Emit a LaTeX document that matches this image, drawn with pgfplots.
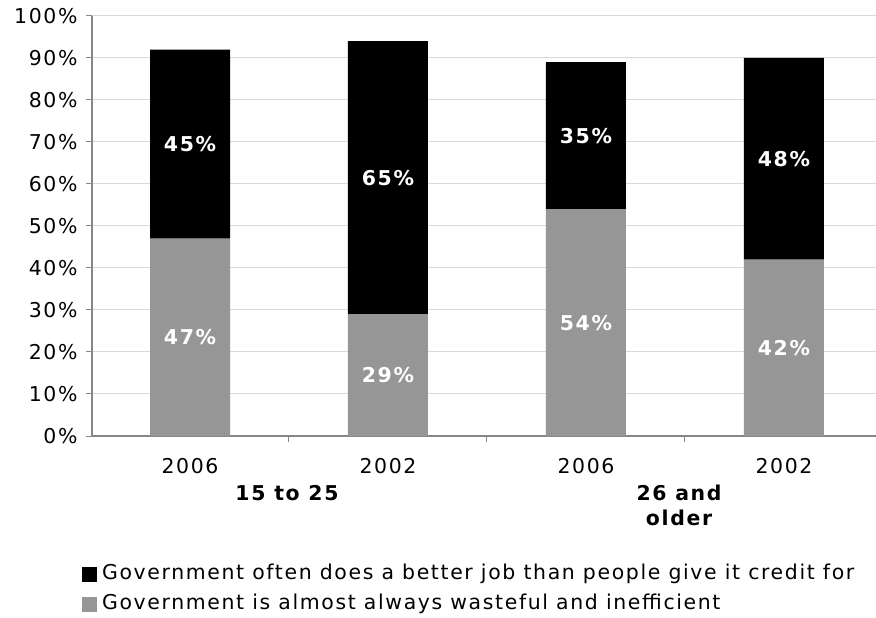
\documentclass[border=0pt]{standalone}
\usepackage{fontspec}
\setmainfont[LetterSpace=8]{DejaVu Sans}
\usepackage{pgfplots}
\usepackage{pgfplotstable}
\pgfplotsset{compat=1.18}
\definecolor{bargray}{RGB}{150,150,150}
\definecolor{axisgray}{RGB}{134,134,134}
\definecolor{gridgray}{RGB}{217,217,217}
\pgfplotstableread{
xpos waste better
0 47 45
1 29 65
2 54 35
3 42 48
}\govtable
\newcommand{\chartfont}{\fontsize{20.5}{25}\selectfont}
\begin{document}
\begin{tikzpicture}
\path[use as bounding box] (0bp,0bp) rectangle (876bp,618bp);
\begin{axis}[
  at={(92bp,182bp)}, anchor=south west,
  scale only axis, width=784bp, height=420bp,
  ybar stacked, bar width=80bp,
  xmin=-0.495, xmax=3.465, ymin=0, ymax=100,
  axis lines*=left,
  axis line style={axisgray, line width=1.5bp},
  tick style={axisgray, line width=1bp},
  major tick length=6bp, minor tick length=6bp,
  tick align=outside,
  ymajorgrids, grid style={gridgray, line width=1bp},
  ytick={0,10,...,100},
  /pgf/number format/assume math mode=true,
  yticklabel={\pgfmathprintnumber[fixed,precision=0]{\tick}\%},
  ticklabel style={font=\chartfont},
  yticklabel style={xshift=-5bp},
  xtick={0,1,2,3}, xticklabels={2006,2002,2006,2002},
  major x tick style={draw=none},
  minor xtick={-0.5,0.5,1.5,2.5,3.5},
  xticklabel style={yshift=-13bp},
  reverse legend,
  legend cell align=left,
  legend style={at={(-0.0128,-0.302)}, anchor=north west, draw=none, fill=none,
    inner sep=0pt, row sep=8bp,
    font=\chartfont,
    nodes={inner sep=1bp, text height=15bp, text depth=5bp},
    /tikz/every odd column/.append style={column sep=4bp}},
  legend image code/.code={\fill[#1] (0bp,-7.5bp) rectangle (15bp,7.5bp);},
  clip=false,
]
\addplot[fill=bargray, draw=none] table[x=xpos, y=waste] {\govtable};
\addplot[fill=black, draw=none] table[x=xpos, y=better] {\govtable};
\legend{Government is almost always wasteful and inefficient,
        Government often does a better job than people give it credit for}
\coordinate (a1) at (axis cs:0,23.5);
\coordinate (a2) at (axis cs:1,14.5);
\coordinate (a3) at (axis cs:2,27);
\coordinate (a4) at (axis cs:3,21);
\coordinate (b1) at (axis cs:0,69.5);
\coordinate (b2) at (axis cs:1,61.5);
\coordinate (b3) at (axis cs:2,71.5);
\coordinate (b4) at (axis cs:3,66);
\node[anchor=north, inner sep=0pt, font=\bfseries\chartfont] at (axis cs:0.49,0) [yshift=-49bp] {15 to 25};
\node[anchor=north, inner sep=0pt, align=center, font=\bfseries\chartfont] at (axis cs:2.47,0) [yshift=-49bp] {26 and\\older};
\end{axis}
\begin{scope}[every node/.style={text=white, font=\bfseries\chartfont}]
\node at (a1) {47\%};
\node at (a2) {29\%};
\node at (a3) {54\%};
\node at (a4) {42\%};
\node at (b1) {45\%};
\node at (b2) {65\%};
\node at (b3) {35\%};
\node at (b4) {48\%};
\end{scope}
\end{tikzpicture}
\end{document}
